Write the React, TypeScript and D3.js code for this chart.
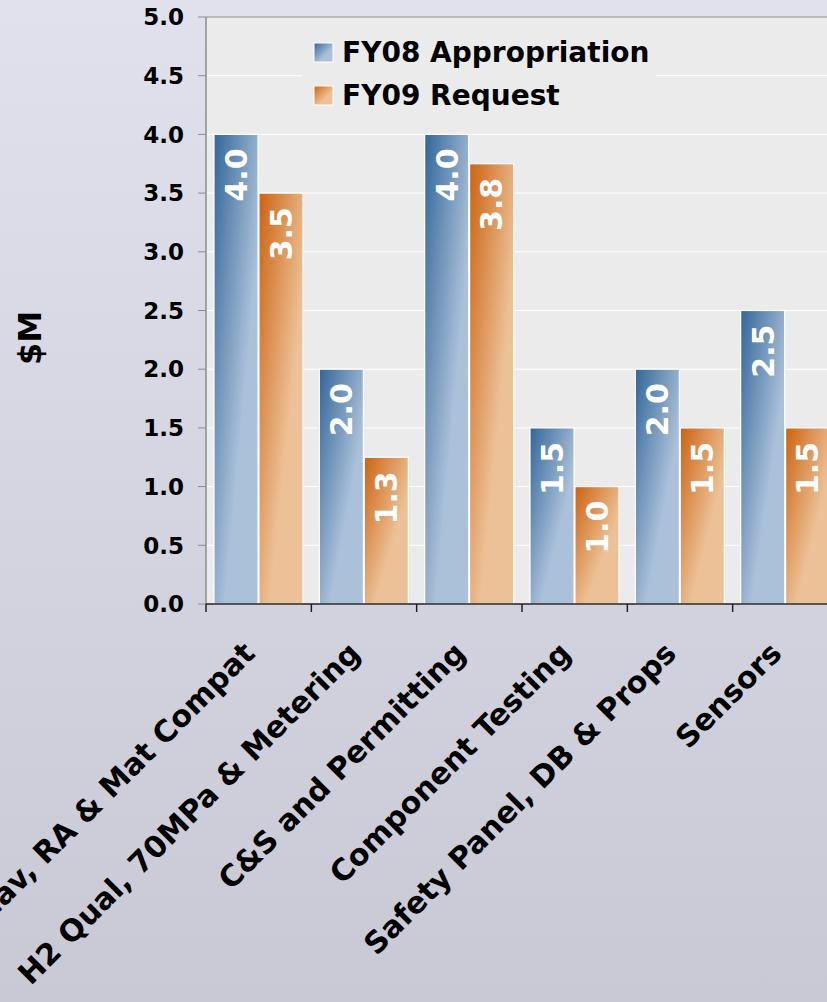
import * as d3 from "d3";

const categories = [
  "H2 Behav, RA & Mat Compat",
  "H2 Qual, 70MPa & Metering",
  "C&S and Permitting",
  "Component Testing",
  "Safety Panel, DB & Props",
  "Sensors",
];
const seriesNames = ["FY08 Appropriation", "FY09 Request"];
const fy08 = [4.0, 2.0, 4.0, 1.5, 2.0, 2.5];
const fy09 = [3.5, 1.25, 3.75, 1.0, 1.5, 1.5];
const yTicks = [0, 0.5, 1.0, 1.5, 2.0, 2.5, 3.0, 3.5, 4.0, 4.5, 5.0];

const W = 827;
const H = 1002;
const PLOT = { left: 206, right: 838, top: 17, bottom: 604 };
const FONT = "'DejaVu Sans', Verdana, sans-serif";

const GRAD = [
  { id: "gBlue", dark: "#336699", light: "#abc0d9" },
  { id: "gOrange", dark: "#cc6311", light: "#ecc197" },
];

export default function App() {
  const x0 = d3
    .scaleBand<string>()
    .domain(categories)
    .range([PLOT.left, PLOT.right])
    .padding(0);
  const x1 = d3
    .scaleBand<string>()
    .domain(seriesNames)
    .range([8, 97])
    .paddingInner(0.02);
  const y = d3.scaleLinear().domain([0, 5]).range([PLOT.bottom, PLOT.top]);

  const values = [fy08, fy09];
  const bw = x1.bandwidth();

  return (
    <svg
      width={W}
      height={H}
      style={{ position: "fixed", left: 0, top: 0, display: "block" }}
      fontFamily={FONT}
    >
      <defs>
        <linearGradient id="bg" x1="0" y1="0" x2="0" y2="1">
          <stop offset="0" stopColor="#e1e1ed" />
          <stop offset="1" stopColor="#c9c9d5" />
        </linearGradient>
        {GRAD.map((g) => (
          <linearGradient key={g.id} id={g.id} x1="0" y1="0" x2="1" y2="1">
            <stop offset="0" stopColor={g.dark} />
            <stop offset="0.62" stopColor={g.light} />
            <stop offset="1" stopColor={g.light} />
          </linearGradient>
        ))}
      </defs>

      <rect x={0} y={0} width={W} height={H} fill="url(#bg)" />

      {/* plot area */}
      <rect
        x={PLOT.left}
        y={PLOT.top}
        width={PLOT.right - PLOT.left}
        height={PLOT.bottom - PLOT.top}
        fill="#ebebeb"
      />

      {/* gridlines */}
      {yTicks.slice(1).map((t) => (
        <line
          key={t}
          x1={PLOT.left}
          x2={PLOT.right}
          y1={y(t)}
          y2={y(t)}
          stroke={t === 5 ? "#8c8c8c" : "#ffffff"}
          strokeWidth={1}
        />
      ))}

      {/* legend box covers gridlines */}
      <rect x={302} y={30} width={354} height={86} fill="#ebebeb" />
      {seriesNames.map((s, i) => (
        <g key={s} transform={`translate(314, ${43 + i * 43})`}>
          <rect
            x={0}
            y={0}
            width={19}
            height={19}
            fill={`url(#${GRAD[i].id})`}
            stroke="#ffffff"
            strokeWidth={1}
          />
          <text x={28} y={19} fontSize={28} fontWeight="bold" fill="#000">
            {s}
          </text>
        </g>
      ))}

      {/* bars */}
      {categories.map((c, ci) => (
        <g key={c} transform={`translate(${x0(c)}, 0)`}>
          {seriesNames.map((s, si) => {
            const v = values[si][ci];
            const bx = x1(s)!;
            const top = y(v);
            return (
              <g key={s}>
                <rect
                  x={bx}
                  y={top}
                  width={bw}
                  height={y(0) - top}
                  fill={`url(#${GRAD[si].id})`}
                  stroke="#ffffff"
                  strokeWidth={1.2}
                />
                <text
                  transform={`translate(${bx + bw / 2}, ${top + 14}) rotate(-90)`}
                  textAnchor="end"
                  dy="0.36em"
                  fontSize={30}
                  fontWeight="bold"
                  fill="#ffffff"
                >
                  {v.toFixed(1)}
                </text>
              </g>
            );
          })}
        </g>
      ))}

      {/* y axis */}
      <line
        x1={PLOT.left}
        x2={PLOT.left}
        y1={PLOT.top}
        y2={PLOT.bottom}
        stroke="#8c8c8c"
        strokeWidth={1.5}
      />
      {yTicks.map((t) => (
        <g key={t}>
          <line
            x1={PLOT.left - 8}
            x2={PLOT.left}
            y1={y(t)}
            y2={y(t)}
            stroke="#8c8c8c"
            strokeWidth={1}
          />
          <text
            x={184}
            y={y(t)}
            dy="0.36em"
            textAnchor="end"
            fontSize={23}
            fontWeight="bold"
            fill="#000"
          >
            {t.toFixed(1)}
          </text>
        </g>
      ))}

      {/* x axis */}
      <line
        x1={PLOT.left}
        x2={PLOT.right}
        y1={PLOT.bottom}
        y2={PLOT.bottom}
        stroke="#222"
        strokeWidth={1.5}
      />
      {[...categories.map((c) => x0(c)!), PLOT.right].map((bx, i) => (
        <line
          key={i}
          x1={bx}
          x2={bx}
          y1={PLOT.bottom}
          y2={PLOT.bottom + 8}
          stroke="#222"
          strokeWidth={1.5}
        />
      ))}
      {categories.map((c) => (
        <text
          key={c}
          transform={`translate(${x0(c)! + x0.bandwidth() / 2 - 2}, 655) rotate(-45)`}
          textAnchor="end"
          fontSize={30}
          fontWeight="bold"
          fill="#000"
        >
          {c}
        </text>
      ))}

      {/* y title */}
      <text
        transform="translate(29, 338) rotate(-90)"
        textAnchor="middle"
        dy="0.36em"
        fontSize={32}
        fontWeight="bold"
        fill="#000"
      >
        $M
      </text>
    </svg>
  );
}
